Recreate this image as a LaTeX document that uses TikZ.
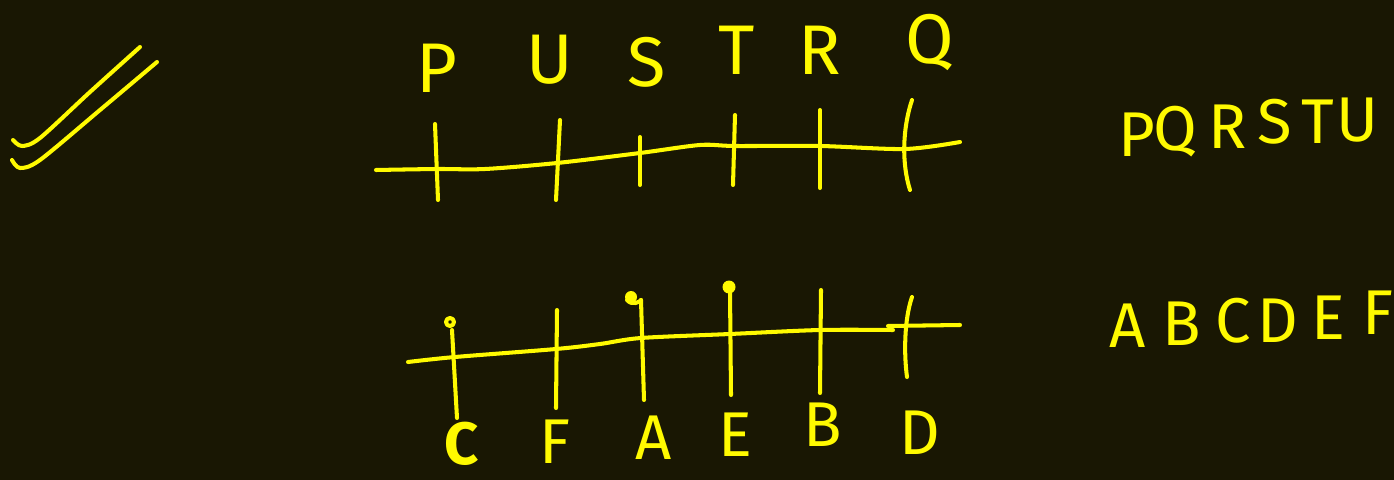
\documentclass[tikz,border=0pt]{standalone}
\usepackage{fontspec}
\setmainfont{Fira Sans}
\definecolor{bg}{RGB}{25,23,3}
\definecolor{pen}{RGB}{255,250,0}
\begin{document}
\begin{tikzpicture}[x=0.02cm,y=-0.02cm,
  ink/.style={draw=pen,line width=2.3pt,line cap=round,line join=round},
  lbl/.style={text=pen,inner sep=0pt,font=\fontsize{40}{40}\selectfont},
  blbl/.style={text=pen,inner sep=0pt,anchor=base,font=\fontsize{36}{36}\selectfont},
  rlbl/.style={text=pen,inner sep=0pt,font=\fontsize{36}{36}\selectfont}]
\fill[bg] (0,0) rectangle (1394,480);
\useasboundingbox (0,0) rectangle (1394,480);
% double slash
\draw[ink] plot[smooth] coordinates {(13,140) (22,146) (40,138) (90,92) (140,47)};
\draw[ink] plot[smooth] coordinates {(12,160) (20,168) (40,160) (100,110) (157,62)};
% top number line
\coordinate (tl) at (376,170);
\coordinate (tr) at (960,142);
\draw[ink] plot[smooth] coordinates {(tl) (437,169) (485,169) (557,163) (640,153) (700,145) (735,146) (820,146) (905,149) (tr)};
\coordinate (tP1) at (435,124); \coordinate (tP2) at (438,200);
\coordinate (tU1) at (560,120); \coordinate (tU2) at (556,200);
\coordinate (tS1) at (640,137); \coordinate (tS2) at (640,185);
\coordinate (tT1) at (735,115); \coordinate (tT2) at (733,185);
\coordinate (tR1) at (820,110); \coordinate (tR2) at (820,188);
\coordinate (tQ1) at (912,100); \coordinate (tQ2) at (910,190);
\draw[ink] (tP1) -- (tP2);
\draw[ink] (tU1) -- (tU2);
\draw[ink] (tS1) -- (tS2);
\draw[ink] (tT1) -- (tT2);
\draw[ink] (tR1) -- (tR2);
\draw[ink] (tQ1) .. controls (902,130) and (902,165) .. (tQ2);
\node[lbl] (lP) at (437,68) {P};
\node[lbl] (lU) at (550,60) {U};
\node[lbl] (lS) at (647,62) {S};
\node[lbl] (lT) at (737,50) {T};
\node[lbl] (lR) at (820,50) {R};
\node[lbl] (lQ) at (930,42) {Q};
% bottom number line
\coordinate (bl) at (408,362);
\coordinate (bm) at (893,330);
\coordinate (bn) at (888,326);
\coordinate (br) at (960,325);
\draw[ink] plot[smooth] coordinates {(bl) (455,357) (556,349) (600,344) (641,338) (730,334) (820,330) (bm)};
\draw[ink] (bn) -- (br);
\coordinate (bC1) at (452,330); \coordinate (bC2) at (457,418);
\coordinate (bF1) at (557,310); \coordinate (bF2) at (556,408);
\coordinate (bA1) at (641,300); \coordinate (bA2) at (644,400);
\coordinate (bE1) at (730,290); \coordinate (bE2) at (731,395);
\coordinate (bB1) at (821,290); \coordinate (bB2) at (820,393);
\coordinate (bD1) at (912,297); \coordinate (bD2) at (907,377);
\draw[ink] (bC1) -- (bC2);
\draw[ink] (bF1) -- (bF2);
\draw[ink] (bA1) -- (bA2);
\draw[ink] (bE1) -- (bE2);
\draw[ink] (bB1) -- (bB2);
\draw[ink] (bD1) .. controls (904,320) and (904,355) .. (bD2);
\draw[ink] (450,322) circle[radius=4];
\fill[pen] (631,297) circle[radius=6];
\draw[ink] (627,300) .. controls (632,306) and (640,302) .. (bA1);
\fill[pen] (729,287) circle[radius=6.5];
\node[blbl,font=\fontsize{34}{34}\selectfont] (lC) at (462,464) {\bfseries C};
\node[blbl] (lF) at (555,463) {F};
\node[blbl] (lA) at (654,459) {A};
\node[blbl] (lE) at (735,456) {E};
\node[blbl] (lB) at (823,446) {B};
\node[blbl] (lD) at (920,454) {D};
% right sequences
\node[rlbl] (rP) at (1137,135) {P};
\node[rlbl] (rQ) at (1175,132) {Q};
\node[rlbl] (rR) at (1228,127) {R};
\node[rlbl] (rS) at (1275,122) {S};
\node[rlbl] (rT) at (1318,122) {T};
\node[rlbl] (rU) at (1357,120) {U};
\node[rlbl] (rA) at (1128,326) {A};
\node[rlbl] (rB) at (1182,324) {B};
\node[rlbl] (rC) at (1233,321) {C};
\node[rlbl] (rD) at (1278,321) {D};
\node[rlbl] (rE) at (1328,318) {E};
\node[rlbl] (rF) at (1378,313) {F};
\end{tikzpicture}
\end{document}
